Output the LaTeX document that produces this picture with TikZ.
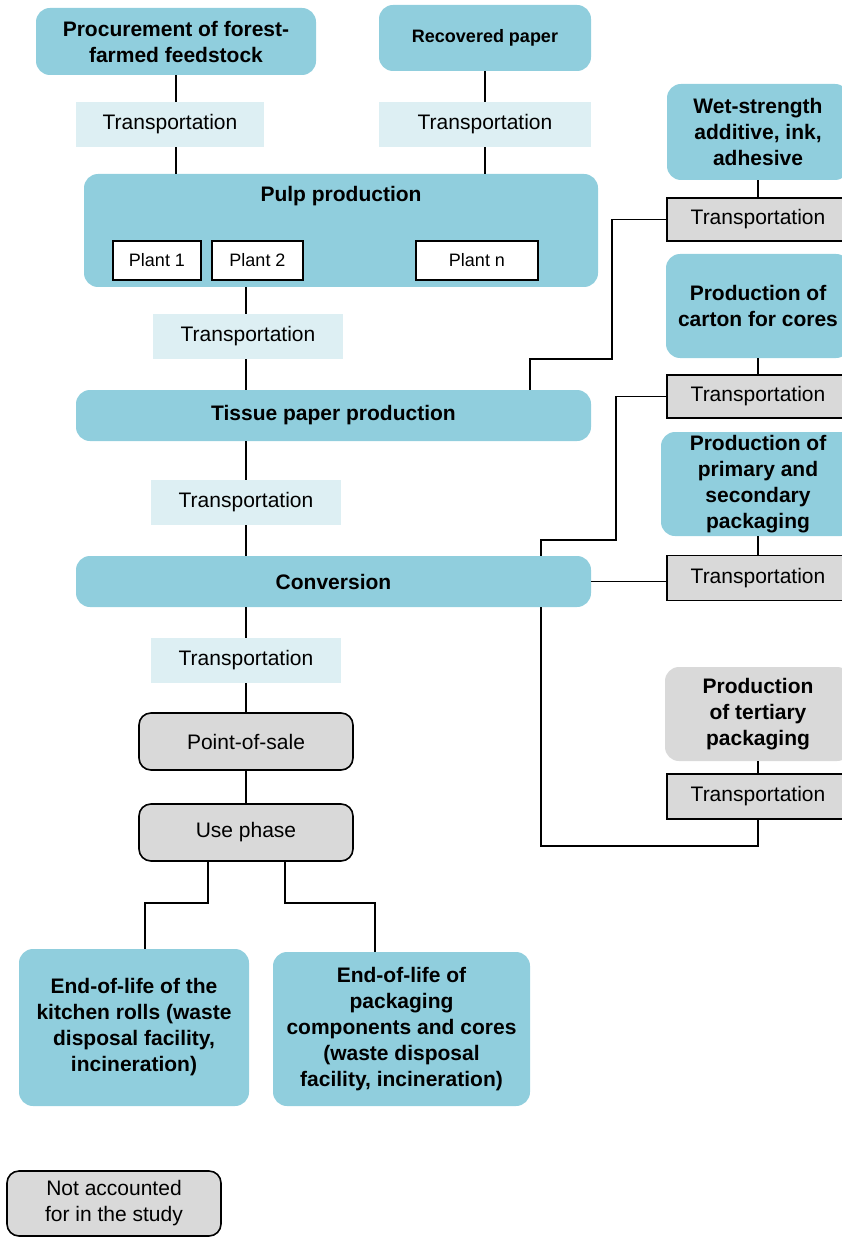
\documentclass[tikz,border=0pt]{standalone}
\usepackage{fontspec}
\setmainfont{Liberation Sans}
\usepackage{tikz}
\usetikzlibrary{positioning}
\usepackage{xcolor}
\definecolor{lcablue}{RGB}{144,206,221}
\definecolor{lcalight}{RGB}{221,239,243}
\definecolor{lcagray}{RGB}{217,217,217}
\newcommand{\bigfont}{\fontsize{21}{26}\selectfont}
\tikzstyle{stage} = [rectangle, rounded corners=14pt, fill=lcablue, align=center, inner sep=0pt, font=\bfseries\bigfont]
\tikzstyle{transp} = [rectangle, fill=lcalight, inner sep=0pt, font=\bigfont]
\tikzstyle{transpx} = [rectangle, fill=lcagray, draw=black, line width=1.6pt, inner sep=0pt, font=\bigfont]
\tikzstyle{excl} = [rectangle, rounded corners=12pt, fill=lcagray, draw=black, line width=1.6pt, align=center, inner sep=0pt, font=\bigfont]
\tikzstyle{plant} = [rectangle, fill=white, draw=black, line width=1.6pt, inner sep=0pt, font=\fontsize{18}{21}\selectfont]
\tikzstyle{link} = [line width=1.6pt, color=black]

\begin{document}
\begin{tikzpicture}[x=1pt, y=-1pt]
\useasboundingbox (0,0) rectangle (842,1238);

\node[stage, minimum width=280pt, minimum height=67pt] (proc) at (176,41.5) {Procurement of forest-\\farmed feedstock};
\node[stage, minimum width=212pt, minimum height=66pt, font=\bfseries\fontsize{18}{22}\selectfont] (recov) at (485,38) {Recovered paper};
\node[transp, minimum width=188pt, minimum height=45pt] (t1) at (170,124.5) {Transportation};
\node[transp, minimum width=212pt, minimum height=45pt] (t2) at (485,124.5) {Transportation};

\node[stage, minimum width=514pt, minimum height=113pt] (pulp) at (341,230.5) {};
\node[font=\bfseries\bigfont] (pulplbl) at (341,196) {Pulp production};
\node[plant, minimum width=88pt, minimum height=39pt] (plant1) at (157,260.5) {Plant 1};
\node[plant, minimum width=91pt, minimum height=39pt] (plant2) at (257.5,260.5) {Plant 2};
\node[plant, minimum width=122pt, minimum height=39pt] (plantn) at (477,260.5) {Plant n};

\node[transp, minimum width=190pt, minimum height=45pt] (t3) at (248,336.5) {Transportation};
\node[stage, minimum width=515pt, minimum height=51pt] (tissue) at (333.5,415.5) {Tissue paper production};
\node[transp, minimum width=190pt, minimum height=45pt] (t4) at (246,502.5) {Transportation};
\node[stage, minimum width=515pt, minimum height=51pt] (conv) at (333.5,581.5) {Conversion};
\node[transp, minimum width=190pt, minimum height=45pt] (t5) at (246,660.5) {Transportation};
\node[excl, minimum width=214pt, minimum height=57pt] (pos) at (246,741.5) {Point-of-sale};
\node[excl, minimum width=214pt, minimum height=57pt] (use) at (246,832.5) {Use phase};

\node[stage, minimum width=230pt, minimum height=157pt] (eol1) at (134,1027.5) {End-of-life of the\\kitchen rolls (waste\\disposal facility,\\incineration)};
\node[stage, minimum width=257pt, minimum height=154pt] (eol2) at (401.5,1029) {End-of-life of\\packaging\\components and cores\\(waste disposal\\facility, incineration)};

\node[stage, minimum width=182pt, minimum height=96pt] (wet) at (758,132) {Wet-strength\\additive, ink,\\adhesive};
\node[transpx, minimum width=182pt, minimum height=43pt] (tr1) at (758,219.5) {Transportation};
\node[stage, minimum width=184pt, minimum height=104pt] (carton) at (758,306) {Production of\\carton for cores};
\node[transpx, minimum width=182pt, minimum height=43pt] (tr2) at (758,396.5) {Transportation};
\node[stage, minimum width=194pt, minimum height=104pt] (prim) at (758,484) {Production of\\primary and\\secondary\\packaging};
\node[transpx, minimum width=182pt, minimum height=45pt] (tr3) at (758,578) {Transportation};
\node[stage, fill=lcagray, minimum width=186pt, minimum height=94pt] (tert) at (758,714) {Production\\of tertiary\\packaging};
\node[transpx, minimum width=182pt, minimum height=45pt] (tr4) at (758,796.5) {Transportation};

\node[excl, minimum width=214pt, minimum height=65pt] (legend) at (114,1203.5) {Not accounted\\for in the study};

\coordinate (k1) at (612,359);
\coordinate (k2) at (530,390);
\coordinate (k3) at (616,540);
\coordinate (k4) at (541,556);
\coordinate (k5) at (541,607);
\coordinate (k6) at (541,846);
\coordinate (ua) at (208,903);
\coordinate (ub) at (285,903);
\coordinate (ea) at (145,949);
\coordinate (eb) at (375,952);

\draw[link] (proc.south) -- (proc.south |- t1.north);
\draw[link] (proc.south |- t1.south) -- (proc.south |- pulp.north);
\draw[link] (recov.south) -- (t2.north);
\draw[link] (t2.south) -- (t2.south |- pulp.north);
\draw[link] (t3.north -| 246,0) -- (pulp.south -| 246,0);
\draw[link] (t3.south -| 246,0) -- (tissue.north -| 246,0);
\draw[link] (tissue.south -| t4.north) -- (t4.north);
\draw[link] (t4.south) -- (t4.south |- conv.north);
\draw[link] (conv.south -| t5.north) -- (t5.north);
\draw[link] (t5.south) -- (pos.north);
\draw[link] (pos.south) -- (use.north);
\draw[link] (use.south -| ua) -- (ua) -| (ea);
\draw[link] (use.south -| ub) -- (ub) -| (eb);

\draw[link] (wet.south) -- (tr1.north);
\draw[link] (carton.south) -- (tr2.north);
\draw[link] (prim.south) -- (tr3.north);
\draw[link] (tert.south) -- (tr4.north);
\draw[link] (tr1.west) -| (k1) -| (k2);
\draw[link] (tr2.west) -| (k3) -| (k4);
\draw[link] (conv.east) -- (conv.east -| tr3.west);
\draw[link] (tr4.south) |- (k6) -- (k5);
\end{tikzpicture}
\end{document}
